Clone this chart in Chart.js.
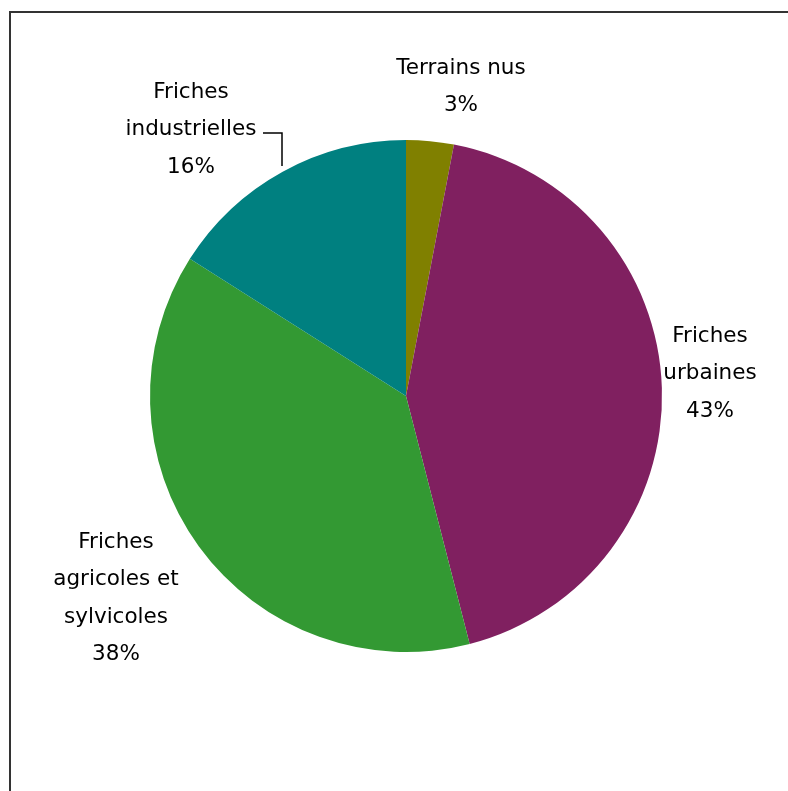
<!DOCTYPE html>
<html>
<head>
<meta charset="utf-8">
<script src="https://cdn.jsdelivr.net/npm/chart.js@4/dist/chart.umd.min.js"></script>
<style>
html,body{margin:0;padding:0;background:#fff;}
#wrap{position:relative;width:788px;height:791px;}
</style>
</head>
<body>
<div id="wrap"><canvas id="c" width="788" height="791"></canvas></div>
<script>
const categories = ["Terrains nus", "Friches urbaines", "Friches agricoles et sylvicoles", "Friches industrielles"];
const values = [3, 43, 38, 16];
const colors = ["#808000", "#802060", "#339933", "#008080"];
const labelLines = [
  ["Terrains nus", "3%"],
  ["Friches", "urbaines", "43%"],
  ["Friches", "agricoles et", "sylvicoles", "38%"],
  ["Friches", "industrielles", "16%"]
];
const labelAnchors = [
  {x: 461, y: 68},
  {x: 710, y: 336},
  {x: 116, y: 542},
  {x: 191, y: 92}
];
const lineGap = 37.5;

const decor = {
  id: 'decor',
  afterDraw(chart) {
    const ctx = chart.ctx;
    ctx.save();
    // frame
    ctx.strokeStyle = '#333';
    ctx.lineWidth = 2;
    ctx.beginPath();
    ctx.moveTo(10, 791);
    ctx.lineTo(10, 12);
    ctx.lineTo(788, 12);
    ctx.stroke();
    // labels
    ctx.fillStyle = '#000';
    ctx.font = '21.5px "DejaVu Sans"';
    ctx.textAlign = 'center';
    ctx.textBaseline = 'middle';
    labelLines.forEach((lines, i) => {
      const a = labelAnchors[i];
      lines.forEach((t, j) => ctx.fillText(t, a.x, a.y + j * lineGap));
    });
    // leader line for Friches industrielles
    ctx.lineWidth = 1.5;
    ctx.strokeStyle = '#000';
    ctx.beginPath();
    ctx.moveTo(263, 133);
    ctx.lineTo(282, 133);
    ctx.lineTo(282, 166);
    ctx.stroke();
    ctx.restore();
  }
};

new Chart(document.getElementById('c'), {
  type: 'pie',
  data: {
    labels: categories,
    datasets: [{
      data: values,
      backgroundColor: colors,
      borderWidth: 0
    }]
  },
  options: {
    responsive: false,
    animation: false,
    layout: {padding: {left: 150, right: 126, top: 140, bottom: 139}},
    plugins: {legend: {display: false}, tooltip: {enabled: false}}
  },
  plugins: [decor]
});
</script>
</body>
</html>
